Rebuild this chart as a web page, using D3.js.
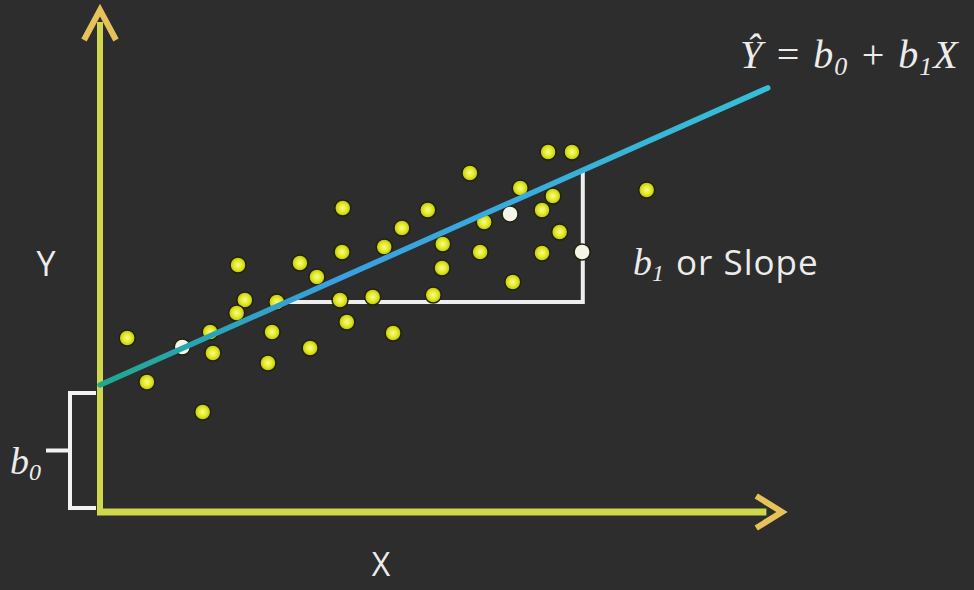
<!DOCTYPE html>
<html>
<head>
<meta charset="utf-8">
<script src="https://cdn.jsdelivr.net/npm/d3@7"></script>
<style>
  html, body { margin: 0; padding: 0; background: #2d2d2d; }
  svg { display: block; }
  .lbl { fill: #ececec; font-family: "Open Sans", "Noto Sans", sans-serif; }
  .math { fill: #ececec; font-family: "Liberation Serif", "DejaVu Serif", serif; font-style: italic; }
</style>
</head>
<body>
<div id="chart"></div>
<script>
(function () {
  'use strict';

  /* ── Data (chart units) ── */
  var pointsX = [0.40, 0.69, 1.21, 1.51, 1.62, 1.66, 2.03, 2.13, 2.01, 2.53,
                 2.47, 2.60, 2.94, 3.09, 3.19, 3.53, 3.63, 3.57, 3.56, 4.01,
                 4.18, 4.31, 4.44, 4.82, 4.90, 5.03, 5.04, 5.44, 5.59, 5.65,
                 6.07, 6.18, 6.50, 6.50, 6.59, 6.66, 6.76, 6.94, 7.09, 8.04, 6.03];
  var pointsY = [3.48, 2.60, 3.30, 2.00, 3.60, 3.18, 4.94, 4.24, 3.98, 3.60,
                 2.98, 4.20, 4.98, 3.28, 4.70, 4.24, 3.80, 6.08, 5.20, 4.30,
                 5.30, 3.58, 5.68, 6.04, 4.34, 4.88, 5.36, 6.78, 5.20, 5.80,
                 4.60, 6.48, 6.04, 5.18, 7.20, 6.32, 5.60, 7.20, 5.20, 6.44, 5.96];
  var whitePoints = [2, 38, 40];     /* points drawn pale */

  var b0 = 2.54, b1 = 0.605;         /* fitted line */
  var lineEndX = 9.82;
  var slopeY = 4.2, slopeEndX = 7.1; /* slope triangle */

  var W = 974, H = 590;
  var x = d3.scaleLinear().domain([0, 10]).range([100, 780]);
  var y = d3.scaleLinear().domain([0, 10]).range([512, 12]);

  var svg = d3.select('#chart').append('svg')
    .attr('width', W).attr('height', H);

  svg.append('rect').attr('width', W).attr('height', H).attr('fill', '#2d2d2d');

  var defs = svg.append('defs');

  var dotGrad = defs.append('radialGradient').attr('id', 'dotg')
    .attr('cx', '50%').attr('cy', '50%').attr('r', '50%');
  dotGrad.append('stop').attr('offset', '0%').attr('stop-color', '#f6fa9a');
  dotGrad.append('stop').attr('offset', '55%').attr('stop-color', '#e4ea22');
  dotGrad.append('stop').attr('offset', '100%').attr('stop-color', '#b8c010');

  var lineGrad = defs.append('linearGradient').attr('id', 'lineg')
    .attr('gradientUnits', 'userSpaceOnUse')
    .attr('x1', x(0)).attr('y1', y(b0))
    .attr('x2', x(lineEndX)).attr('y2', y(b0 + b1 * lineEndX));
  lineGrad.append('stop').attr('offset', '0%').attr('stop-color', '#1fa88e');
  lineGrad.append('stop').attr('offset', '35%').attr('stop-color', '#3a9fe0');
  lineGrad.append('stop').attr('offset', '100%').attr('stop-color', '#36bfd6');

  var axisCol = '#cfd84c', arrowCol = '#e6c25a';

  /* ── Axes ── */
  svg.append('line')
    .attr('x1', x(0)).attr('y1', y(0)).attr('x2', x(0)).attr('y2', y(9.8))
    .attr('stroke', axisCol).attr('stroke-width', 6);
  svg.append('line')
    .attr('x1', x(0) - 3).attr('y1', y(0)).attr('x2', x(9.8)).attr('y2', y(0))
    .attr('stroke', axisCol).attr('stroke-width', 7);

  /* arrow heads */
  svg.append('path')
    .attr('d', 'M' + (x(0) - 16) + ',' + (y(10) + 28) + ' L' + x(0) + ',' + (y(10) - 2) +
               ' L' + (x(0) + 16) + ',' + (y(10) + 28))
    .attr('fill', 'none').attr('stroke', arrowCol).attr('stroke-width', 6);
  svg.append('path')
    .attr('d', 'M' + (x(9.65)) + ',' + (y(0) - 16) + ' L' + (x(10) + 2) + ',' + y(0) +
               ' L' + (x(9.65)) + ',' + (y(0) + 16))
    .attr('fill', 'none').attr('stroke', arrowCol).attr('stroke-width', 6);

  /* ── b0 bracket ── */
  var bx = 70, bTop = y(b0) + 8, bBot = y(0) - 4, bMid = (bTop + bBot) / 2;
  svg.append('path')
    .attr('d', 'M' + (x(0) - 4) + ',' + bTop + ' L' + bx + ',' + bTop + ' L' + bx + ',' + bBot +
               ' L' + (x(0) - 4) + ',' + bBot +
               ' M' + bx + ',' + bMid + ' L' + (bx - 24) + ',' + bMid)
    .attr('fill', 'none').attr('stroke', '#f2f2f2').attr('stroke-width', 4);

  /* ── Slope triangle ── */
  var xs0 = (slopeY - b0) / b1;
  svg.append('path')
    .attr('d', 'M' + x(xs0) + ',' + y(slopeY) + ' L' + x(slopeEndX) + ',' + y(slopeY) +
               ' L' + x(slopeEndX) + ',' + y(b0 + b1 * slopeEndX))
    .attr('fill', 'none').attr('stroke', '#eeeeee').attr('stroke-width', 4);

  /* ── Points ── */
  var pts = pointsX.map(function (v, i) { return { x: v, y: pointsY[i], w: whitePoints.indexOf(i) >= 0 }; });
  svg.append('g').selectAll('circle')
    .data(pts)
    .join('circle')
    .attr('cx', function (d) { return x(d.x); })
    .attr('cy', function (d) { return y(d.y); })
    .attr('r', 8)
    .attr('fill', function (d) { return d.w ? '#f4f4e8' : 'url(#dotg)'; })
    .attr('stroke', '#20220a').attr('stroke-width', 1.5);

  /* ── Regression line ── */
  svg.append('line')
    .attr('x1', x(0)).attr('y1', y(b0))
    .attr('x2', x(lineEndX)).attr('y2', y(b0 + b1 * lineEndX))
    .attr('stroke', 'url(#lineg)').attr('stroke-width', 5.5).attr('stroke-linecap', 'round');

  /* ── Labels ── */
  svg.append('text').attr('class', 'lbl').attr('x', 46).attr('y', 276)
    .attr('text-anchor', 'middle').attr('font-size', 34).text('Y');
  svg.append('text').attr('class', 'lbl').attr('x', 381).attr('y', 576)
    .attr('text-anchor', 'middle').attr('font-size', 32).text('X');

  var t0 = svg.append('text').attr('class', 'math').attr('x', 10).attr('y', 474).attr('font-size', 38);
  t0.append('tspan').text('b');
  t0.append('tspan').attr('font-size', 24).attr('dy', 6).text('0');

  var ts = svg.append('text').attr('x', 633).attr('y', 275).attr('font-size', 38);
  ts.append('tspan').attr('class', 'math').text('b');
  ts.append('tspan').attr('class', 'math').attr('font-size', 24).attr('dy', 6).text('1');
  ts.append('tspan').attr('class', 'lbl').attr('font-size', 35).attr('dy', -6).attr('dx', 12)
    .attr('letter-spacing', 1).text('or Slope');

  var te = svg.append('text').attr('class', 'math').attr('x', 740).attr('y', 68)
    .attr('font-size', 40).attr('letter-spacing', 1);
  te.append('tspan').text('Ŷ = b');
  te.append('tspan').attr('font-size', 26).attr('dy', 7).text('0');
  te.append('tspan').attr('dy', -7).text(' + b');
  te.append('tspan').attr('font-size', 26).attr('dy', 7).text('1');
  te.append('tspan').attr('dy', -7).text('X');
})();
</script>
</body>
</html>
